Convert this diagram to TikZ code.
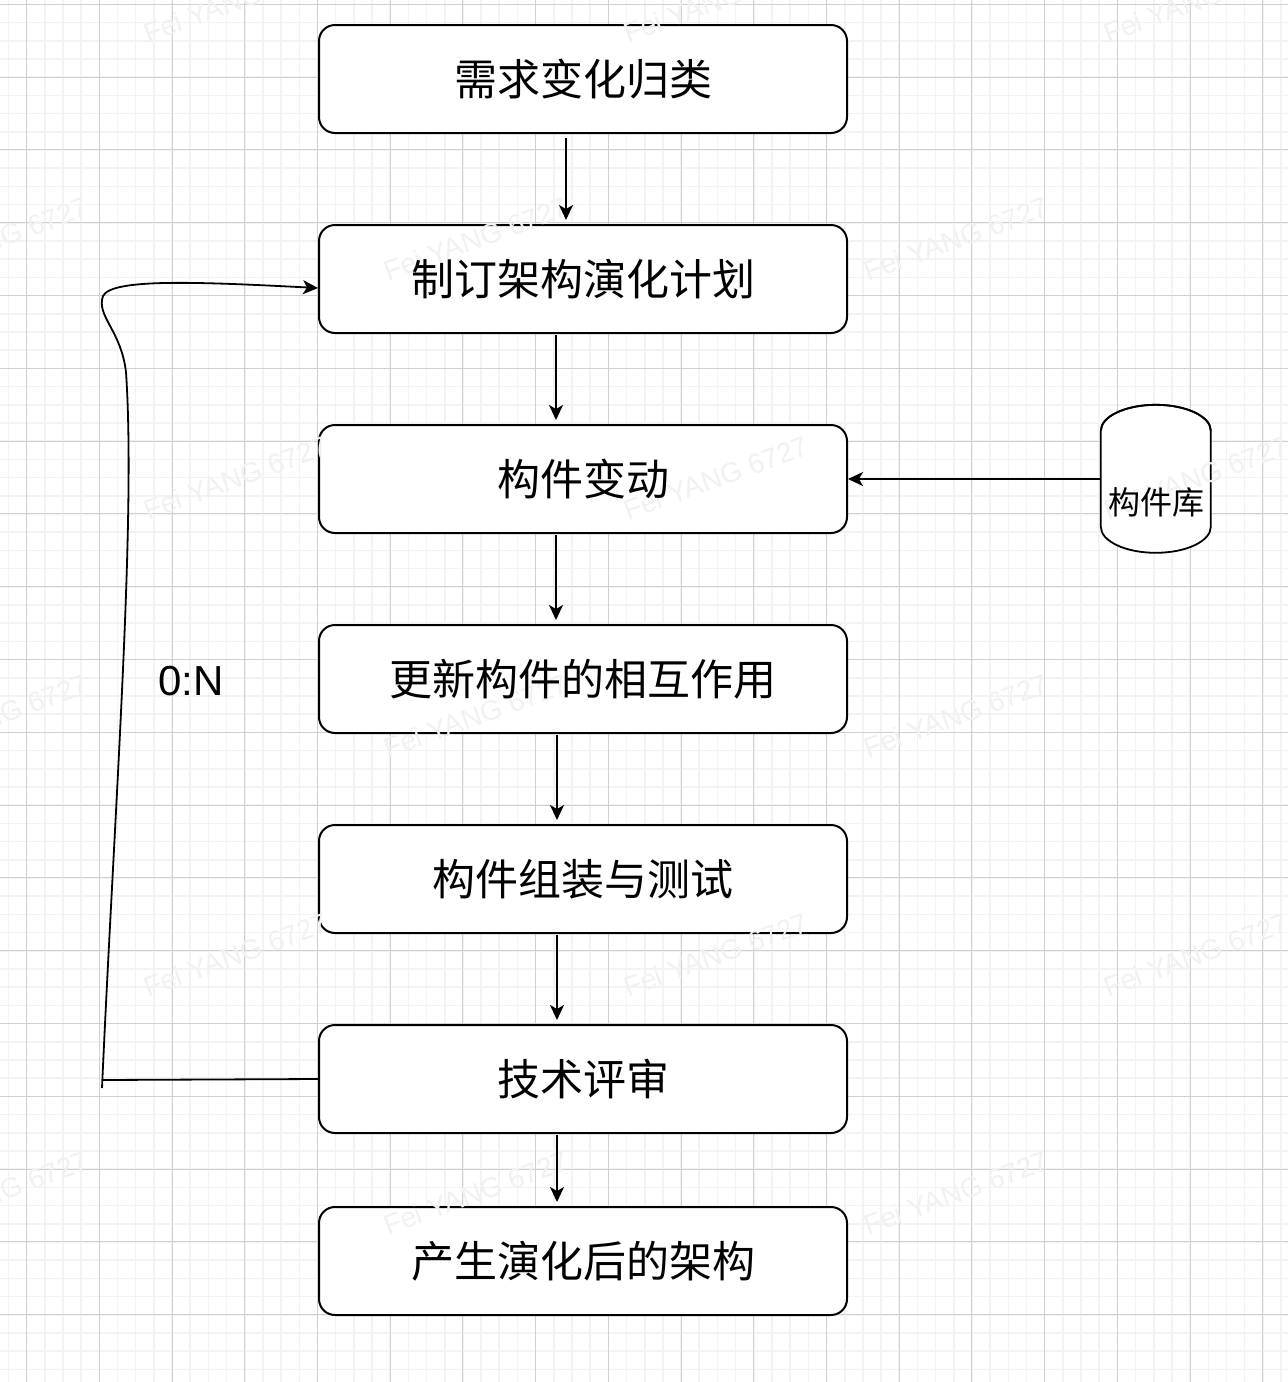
\documentclass[tikz,border=0pt]{standalone}
\usepackage{fontspec}
\newfontfamily\cjk{Noto Sans CJK SC}
\newfontfamily\lat{Liberation Sans}
\usetikzlibrary{arrows.meta}
\definecolor{gridminor}{HTML}{F3F3F3}
\definecolor{gridmajor}{HTML}{D0D0D0}
\definecolor{wmcol}{HTML}{F1F1F1}
\tikzset{
  stepbox/.style={draw=black, line width=2pt, fill=white, rounded corners=16pt,
    minimum width=528pt, minimum height=108pt, inner sep=0pt},
  steptext/.style={inner sep=0pt, font=\cjk\fontsize{43}{50}\selectfont},
  arr/.style={draw=black, line width=1.8pt, -{Stealth[length=15pt,width=14pt,inset=4pt]}},
  plainline/.style={draw=black, line width=1.8pt},
  wm/.style={text=wmcol, font=\lat\fontsize{28}{30}\selectfont, rotate=20, inner sep=0pt},
  gminor/.style={draw=gridminor, line width=1.6pt},
  gmajor/.style={draw=gridmajor, line width=1pt},
}
\begin{document}
\begin{tikzpicture}[x=1pt,y=-1pt]
\useasboundingbox (0,0) rectangle (1288,1382);
\fill[white] (0,0) rectangle (1288,1382);
\begin{scope}
\clip (0,0) rectangle (1288,1382);
\foreach \i in {0,...,71} {\draw[gminor] ({8.42+18.18*\i},0) -- ++(0,1382);}
\foreach \i in {0,...,77} {\draw[gminor] (0,{-13.9+18.2*\i}) -- ++(1288,0);}
\foreach \i in {0,...,17} {\draw[gmajor] ({26.6+72.72*\i},0) -- ++(0,1382);}
\foreach \i in {0,...,19} {\draw[gmajor] (0,{4.3+72.8*\i}) -- ++(1288,0);}
\end{scope}

% boxes (frames)
\node[stepbox] (b1) at (583,79) {};
\node[stepbox] (b2) at (583,279) {};
\node[stepbox] (b3) at (583,479) {};
\node[stepbox] (b4) at (583,679) {};
\node[stepbox] (b5) at (583,879) {};
\node[stepbox] (b6) at (583,1079) {};
\node[stepbox] (b7) at (583,1261) {};

% database cylinder
\node[minimum width=110pt, minimum height=148pt, inner sep=0pt] (db) at (1156,479) {};
\draw[line width=1.8pt, fill=white] (db.north west) ++(0,26)
  -- ++(0,96) arc[start angle=180, end angle=360, x radius=55, y radius=-26]
  -- ++(0,-96) arc[start angle=0, end angle=180, x radius=55, y radius=-26] -- cycle;
\draw[line width=1.8pt] (db.north west) ++(0,26) arc[start angle=180, end angle=360, x radius=55, y radius=26];

% watermark
\begin{scope}
\clip (0,0) rectangle (1288,1382);
\foreach \i in {0,1,2} {
  \foreach \j in {0,1,2} {
    \node[wm] (wma-\i-\j) at ({236+480*\i},{1+477*\j}) {Fei YANG 6727};
    \node[wm] (wmb-\i-\j) at ({-4+480*\i},{239+477*\j}) {Fei YANG 6727};
  }
}
\end{scope}

% box texts
\node[steptext] (t1) at (b1) {需求变化归类};
\node[steptext] (t2) at (b2) {制订架构演化计划};
\node[steptext] (t3) at (b3) {构件变动};
\node[steptext] (t4) at (b4) {更新构件的相互作用};
\node[steptext] (t5) at (b5) {构件组装与测试};
\node[steptext] (t6) at (b6) {技术评审};
\node[steptext] (t7) at (b7) {产生演化后的架构};
\node[font=\cjk\fontsize{32}{36}\selectfont, inner sep=0pt] (dbl) at (1156,502) {构件库};

% connectors
\draw[arr] ([xshift=-17pt,yshift=-4pt]b1.south) -- ([xshift=-17pt,yshift=4pt]b2.north);
\draw[arr] ([xshift=-27pt,yshift=-1pt]b2.south) -- ([xshift=-27pt,yshift=4pt]b3.north);
\draw[arr] ([xshift=-27pt,yshift=-1pt]b3.south) -- ([xshift=-27pt,yshift=4pt]b4.north);
\draw[arr] ([xshift=-26pt,yshift=-1pt]b4.south) -- ([xshift=-26pt,yshift=4pt]b5.north);
\draw[arr] ([xshift=-26pt,yshift=-1pt]b5.south) -- ([xshift=-26pt,yshift=4pt]b6.north);
\draw[arr] ([xshift=-26pt,yshift=-1pt]b6.south) -- ([xshift=-26pt,yshift=4pt]b7.north);
\draw[arr] (db.west) -- (b3.east);

% feedback loop
\coordinate (lc1) at (102,1080);
\coordinate (lc2) at (102,1088);
\coordinate (lend) at ([yshift=-9pt]b2.west);
\draw[plainline] (b6.west) -- (lc1);
\draw[arr] (lc2) .. controls (115,800) and (136,520) .. (126,372)
  .. controls (121,330) and (96,316) .. (103,296)
  .. controls (112,278) and (200,282) .. (lend);
\node[font=\lat\fontsize{42}{46}\selectfont, inner sep=0pt] (lbl) at (191,681) {0:N};
\end{tikzpicture}
\end{document}
